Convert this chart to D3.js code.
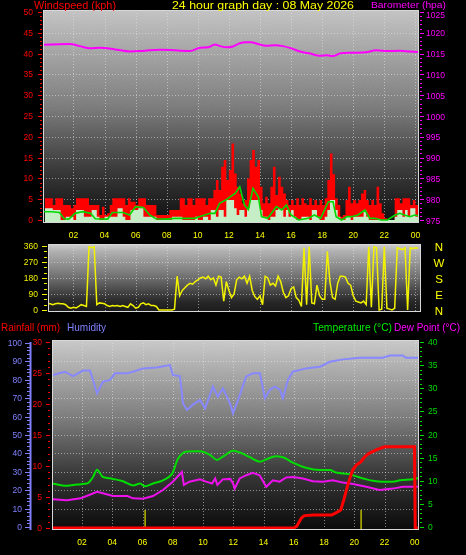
<!DOCTYPE html>
<html><head><meta charset="utf-8">
<script src="https://cdn.jsdelivr.net/npm/d3@7/dist/d3.min.js"></script>
<style>
body{margin:0;background:#000;}
svg{display:block;}
text{font-family:"Liberation Sans",Arial,sans-serif;}
</style>
</head><body>
<svg id="c" width="466" height="555"></svg>
<script>
// ---------------- DATA ----------------
const hourLabels = ["02","04","06","08","10","12","14","16","18","20","22","00"];
const labelHours = [2,4,6,8,10,12,14,16,18,20,22,24];

// wind: 10-minute samples starting 00:10
const windStartHour = 1/6, windStep = 1/6;
const windGust = [
 5.2,5.2,5.2,3.6,5.2,5.2,5.2,3.6,3.6,3.6,2.8,3.6,
 5.2,5.2,5.2,5.2,5.2,3.6,3.6,3.6,3.6,1.2,3.2,1.2,
 1.6,3.6,5.2,5.2,5.2,5.2,5.2,3.6,5.2,4.4,4.4,3.6,
 5.2,5.2,5.2,3.6,3.6,3.6,3.6,1.2,1.2,1.2,1.2,1.2,
 2.4,2.4,2.4,2.4,5.2,5.2,3.6,5.2,5.2,3.6,5.2,5.2,
 5.2,5.2,3.6,5.2,5.2,7.2,9.6,7.2,12.8,14.4,9.6,12,
 18.4,11.2,8,6.4,4,4.8,10,14.4,16.8,12.8,14.4,8,
 4,5.6,4,8,12.8,6,10.4,8,6.4,4.8,3.6,4.8,
 3.6,5.2,3.6,5.2,4,3.6,5.2,3.6,4.8,3.6,4.8,3.6,
 5.2,9.6,16,11,5.2,3.6,0.8,1.2,4.8,8,4,4.8,
 4,4.8,6.4,7.2,4.8,3.6,4.8,3.6,8,4,1.6,0.4,
 0,0,0,5.2,5.2,4,5.2,5.2,5.2,3.6,4.8,3.6,3.6
];
const windAvg = [
 2.8,2.8,2.8,2.4,2.4,2.4,0,0,0.8,0.8,0.8,0,
 2.4,2.4,2.4,0.8,0.8,0.8,2.4,2.4,0.8,0,0,0.8,
 0.8,0.8,0.8,0.8,2.8,2.8,0.8,0,0,2.4,2.4,2.4,
 2.8,2.8,0.8,0.8,0.8,0.8,0.8,0,0,0,0,0,
 0,0.8,0.8,0.8,0.8,0,0,0,0,0,0.8,0,
 0,0.8,0.8,0,2.4,2.4,0.8,2.4,2.4,0.8,4.8,4.8,
 4.8,2.8,1.2,2.4,2.4,0.8,2.8,4.8,4.8,4.8,4.8,2.4,
 0.8,0.8,0,0.8,0.8,2.4,2.8,2.4,0.8,2.4,0.8,2.4,
 0.8,0,0,0.8,0.8,0.8,0,2.4,2.4,0.8,0,0,
 0.8,2.4,4.8,4.8,2.4,0.8,0,0,0.8,0.8,0,0.8,
 0.8,0.8,0.8,2.4,0.8,0,0,0,0,0,0,0,
 0,0,0,0.8,2.4,2.4,0.8,2.4,0.8,2.8,2.8,0.8,0.8
];
const trendHours = [0.1,0.6,1.1,1.4,1.7,2.1,2.6,3.1,3.4,4.2,4.5,5.2,5.6,6.0,6.5,6.9,7.3,8.0,8.5,9.2,9.8,10.3,10.8,11.1,11.4,11.8,12.1,12.4,12.7,13.0,13.25,13.55,13.9,14.1,14.5,15.05,15.4,15.7,16.0,16.5,17.1,17.5,17.9,18.4,18.7,18.9,19.25,19.6,19.9,20.3,20.75,21.07,21.4,21.8,22.2,22.7,23.0,23.3,23.65,23.97,24.2];
const trendValues = [2,2,1.8,0.3,0.2,1.6,2,1.6,0.3,0.2,1.8,1.8,1.2,3.2,3.0,1.2,0.3,0.2,0.4,0.4,0.4,1.0,1.6,1.6,4,4.8,5.6,6.4,8,3.6,2.5,7.6,5.5,0.8,0.4,3.2,2.4,3.6,1.2,0,0.4,1.2,0.4,4.4,4.4,0.8,0,0.8,0.8,1.2,2.4,0.4,0.4,0,0,1.2,1.6,1.2,0.8,1.2,1.0];

const windDir = [
 35,35,35,30,35,38,35,35,30,15,10,15,
 12,20,30,25,20,355,350,355,30,40,38,35,
 25,20,25,22,25,20,25,20,15,35,25,10,
 15,35,40,30,35,25,25,20,0,0,0,0,
 0,0,5,190,80,110,125,140,150,145,160,170,
 180,185,175,190,170,180,140,190,185,50,160,110,
 70,90,170,185,175,190,150,190,110,75,60,80,
 30,190,180,140,150,135,190,160,100,70,80,120,
 130,70,55,20,350,30,355,40,35,140,80,60,
 60,330,160,70,60,150,190,190,185,150,140,80,
 50,45,40,50,30,355,15,355,350,0,5,355,
 10,5,0,10,350,345,340,350,0,350,345,350,348
];
const compassLabels = ["N","W","S","E","N"];
const compassDegrees = [360,270,180,90,0];

const baroHours = [0.1,1.78,2.4,3.06,3.7,4.67,5.64,6.6,7.57,8.53,9.5,10.14,10.66,11.1,11.43,11.94,12.26,12.7,13.1,13.42,13.87,14.39,14.97,15.48,16.06,16.58,17.22,17.86,18.31,18.7,19.21,19.92,20.82,21.46,22.24,23.0,23.65,24.17];
const baroValues = [1017.1,1017.3,1016.8,1016.3,1016.4,1016.0,1015.5,1015.7,1015.9,1015.8,1015.6,1016.4,1016.5,1017.2,1016.8,1016.5,1016.7,1017.5,1017.7,1017.7,1017.3,1016.9,1017.0,1016.8,1016.2,1015.5,1015.0,1014.5,1014.6,1014.4,1015.1,1015.2,1015.3,1015.8,1015.6,1015.7,1015.5,1015.4];

const humHours = [0.08,0.87,1.4,2.06,2.52,2.72,2.99,3.38,3.85,4.18,4.97,5.37,6.03,6.95,7.81,8.01,8.47,8.67,8.94,9.33,9.8,10.13,10.65,10.98,11.31,11.78,11.98,12.31,12.84,13.3,13.76,14.09,14.42,14.75,15.08,15.28,15.61,15.94,16.8,17.73,18.39,19.25,20.37,21.89,22.35,23.21,23.41,24.21];
const humValues = [82.6,84.4,82,85,85,80,72.6,78.9,79.9,83.5,83.5,84.4,86.2,86.7,88,82.6,82,67.3,63.6,66.5,69.1,64.5,76.3,70.8,75.4,67.3,61.8,69,81.7,83.5,83.5,70,74.6,76.3,74.6,70,79.9,84.4,86.2,87.1,89.8,91.1,92,92,93.2,93.2,92,92];

const tempHours = [0.08,1.0,1.67,2.33,2.72,2.99,3.38,4.04,4.71,5.37,5.83,6.16,6.69,7.35,7.95,8.35,8.94,9.8,10.46,10.92,11.31,11.98,12.44,13.1,13.76,14.16,14.82,15.28,15.94,16.8,17.73,18.39,18.78,19.71,20.37,21.23,21.89,22.55,23.02,23.88,24.21];
const tempValues = [9.4,8.9,9.2,9.4,10.8,12.4,10.8,10.4,9.9,9.0,9.4,8.8,9.4,10.1,11.5,14.8,16.3,16.4,15.6,14.5,15.2,16.5,16.1,15.1,14.1,14.6,15.3,15.1,13.9,12.8,12.3,12.3,11.8,11.4,10.7,10.0,9.8,9.8,10.1,10.3,10.6];

const dewHours = [0.08,1.0,1.9,2.3,2.99,3.38,4.04,5.0,5.37,6.03,6.69,7.35,8.0,8.6,8.73,9.1,9.8,10.2,10.6,10.8,10.95,11.3,11.8,11.98,12.09,12.42,12.86,13.3,13.74,14.18,14.62,15.06,15.5,15.94,16.6,17.26,17.92,18.58,19.25,19.91,20.79,21.67,22.55,23.21,24.2];
const dewValues = [6.0,5.8,6.2,6.7,7.6,7.3,6.7,6.7,6.2,6.1,6.7,8.0,9.8,11.9,9.1,9.8,10.3,9.8,9.4,10.5,9.1,10.3,10.4,9.4,8.3,10.5,11.2,11.7,11.2,8.7,10.1,9.8,10.7,10.8,10.5,9.9,9.8,10.1,9.6,9.3,8.7,8.0,8.3,8.7,8.7];

const rainHours = [0,16.0,16.2,16.5,16.7,17.3,18.5,18.9,19.1,19.3,19.6,19.9,20.15,20.4,20.7,20.95,21.45,22.0,23.98,24.03,24.2];
const rainValues = [0,0,0.3,1.6,2.0,2.1,2.1,2.6,2.9,4.5,7.2,9.4,10.2,10.6,11.5,12.0,12.6,13.1,13.1,0,0];

const markerHours = [6.17,20.45];
const markerValues = [2.9,2.9];

// ---------------- LAYOUT ----------------
const svg = d3.select("#c");
const defs = svg.append("defs");
svg.append("rect").attr("width",466).attr("height",555).attr("fill","#000");

const P1 = {x:43, y:10, w:376, h:213, clip:"cl1"};
const P2 = {x:48, y:244, w:373, h:68, clip:"cl2"};
const P3 = {x:52, y:340, w:367, h:190, clip:"cl3"};

const xTop = d3.scaleLinear().domain([0,24]).range([42.4,415.4]);
const ySpeed = d3.scaleLinear().domain([0,50]).range([220,12]);
const yBaro = d3.scaleLinear().domain([975,1025]).range([220,12]);
const yDir = d3.scaleLinear().domain([0,360]).range([310,246]);
const xBot = d3.scaleLinear().domain([0,24]).range([51.8,414.8]);
const yHum = d3.scaleLinear().domain([0,100]).range([527,343]);
const yRain = d3.scaleLinear().domain([0,30]).range([528,342]);
const yTemp = d3.scaleLinear().domain([0,40]).range([527,342]);

function gradient(id, stops){
  const g = defs.append("linearGradient").attr("id",id).attr("x1",0).attr("y1",0).attr("x2",0).attr("y2",1);
  stops.forEach(s=>g.append("stop").attr("offset",s[0]).attr("stop-color",s[1]));
}
gradient("g1",[[0,"#c2c2c2"],[0.45,"#7a7a7a"],[0.75,"#383838"],[1,"#0e0e0e"]]);
gradient("g2",[[0,"#cfcfcf"],[0.1,"#b0b0b0"],[0.5,"#6a6a6a"],[0.85,"#262626"],[1,"#1a1a1a"]]);
gradient("g3",[[0,"#c8c8c8"],[0.42,"#777777"],[0.72,"#333333"],[1,"#0a0a0a"]]);

const f = defs.append("filter").attr("id","noise").attr("x",0).attr("y",0).attr("width","100%").attr("height","100%");
f.append("feTurbulence").attr("type","fractalNoise").attr("baseFrequency","0.9").attr("numOctaves",1).attr("seed",4);
f.append("feColorMatrix").attr("type","saturate").attr("values",0);

function panel(P, grad){
  svg.append("rect").attr("x",P.x).attr("y",P.y).attr("width",P.w).attr("height",P.h).attr("fill",`url(#${grad})`);
  svg.append("rect").attr("x",P.x).attr("y",P.y).attr("width",P.w).attr("height",P.h)
    .attr("filter","url(#noise)").attr("opacity",0.13).style("mix-blend-mode","overlay");
  defs.append("clipPath").attr("id",P.clip).append("rect").attr("x",P.x).attr("y",P.y).attr("width",P.w).attr("height",P.h);
}
function border(P){
  svg.append("rect").attr("x",P.x+0.5).attr("y",P.y+0.5).attr("width",P.w-1).attr("height",P.h-1)
    .attr("fill","none").attr("stroke","#d8d8d8").attr("stroke-width",1);
}
function grid(P, xs, xVals, yScale, yVals){
  const g = svg.append("g").attr("clip-path","url(#"+P.clip+")")
    .attr("stroke","#e6e6e6").attr("stroke-opacity",0.55).attr("stroke-width",1).attr("stroke-dasharray","1,2");
  xVals.forEach(v=>g.append("line").attr("x1",Math.round(xs(v))+0.5).attr("x2",Math.round(xs(v))+0.5).attr("y1",P.y).attr("y2",P.y+P.h));
  yVals.forEach(v=>g.append("line").attr("y1",Math.round(yScale(v))+0.5).attr("y2",Math.round(yScale(v))+0.5).attr("x1",P.x).attr("x2",P.x+P.w));
}
panel(P1,"g1"); panel(P2,"g2"); panel(P3,"g3");

grid(P1, xTop, labelHours, ySpeed, d3.range(5,50,5));
grid(P2, xTop, labelHours, yDir, [90,180,270]);
grid(P3, xBot, labelHours, yHum, d3.range(10,100,10));

// ---------- top: wind speed ----------
const windHours = windGust.map((d,i)=>windStartHour+i*windStep);
const gTop = svg.append("g").attr("clip-path","url(#cl1)");
const baseY = P1.y+P1.h;
gTop.append("path").datum(windGust)
  .attr("d", d3.area().x((d,i)=>xTop(windHours[i])).y0(baseY).y1(d=>ySpeed(d)).curve(d3.curveStepAfter))
  .attr("fill","#ff0000");
gTop.append("path").datum(windAvg)
  .attr("d", d3.area().x((d,i)=>xTop(windHours[i])).y0(baseY).y1(d=>Math.min(ySpeed(d),baseY-1.5)).curve(d3.curveStepAfter))
  .attr("fill","#c6eec6");
gTop.append("path").datum(trendValues)
  .attr("d", d3.line().x((d,i)=>xTop(trendHours[i])).y(d=>ySpeed(d)))
  .attr("fill","none").attr("stroke","#00d800").attr("stroke-width",1.6);
gTop.append("path").datum(baroValues)
  .attr("d", d3.line().x((d,i)=>xTop(baroHours[i])).y(d=>yBaro(d)).curve(d3.curveMonotoneX))
  .attr("fill","none").attr("stroke","#ff00ff").attr("stroke-width",2);
border(P1);

// ---------- wind direction ----------
const gDir = svg.append("g").attr("clip-path","url(#cl2)");
gDir.append("path").datum(windDir)
  .attr("d", d3.line().x((d,i)=>xTop(windHours[i])).y(d=>yDir(d)))
  .attr("fill","none").attr("stroke","#f2f200").attr("stroke-width",1.5);
border(P2);

// ---------- bottom ----------
const gBot = svg.append("g").attr("clip-path","url(#cl3)");
gBot.selectAll("line.mk").data(markerValues).join("line").attr("class","mk")
  .attr("x1",(d,i)=>xBot(markerHours[i])).attr("x2",(d,i)=>xBot(markerHours[i]))
  .attr("y1",d=>yRain(d)).attr("y2",P3.y+P3.h)
  .attr("stroke","#b8b800").attr("stroke-width",1.5);
gBot.append("path").datum(humValues)
  .attr("d", d3.line().x((d,i)=>xBot(humHours[i])).y(d=>yHum(d)))
  .attr("fill","none").attr("stroke","#8888ff").attr("stroke-width",2);
gBot.append("path").datum(tempValues)
  .attr("d", d3.line().x((d,i)=>xBot(tempHours[i])).y(d=>yTemp(d)).curve(d3.curveMonotoneX))
  .attr("fill","none").attr("stroke","#00dd00").attr("stroke-width",2);
gBot.append("path").datum(dewValues)
  .attr("d", d3.line().x((d,i)=>xBot(dewHours[i])).y(d=>yTemp(d)))
  .attr("fill","none").attr("stroke","#ee11ee").attr("stroke-width",2);
gBot.append("path").datum(rainValues)
  .attr("d", d3.line().x((d,i)=>xBot(rainHours[i])).y(d=>yRain(d)))
  .attr("fill","none").attr("stroke","#ff0000").attr("stroke-width",3);
border(P3);

// ---------- axes ----------
function yAxis(scale, x, side, major, minor, color, labelX, majorLen, minorLen, dyFn){
  const g = svg.append("g");
  const dir = side==="left" ? -1 : 1;
  minor.forEach(v=>g.append("line").attr("x1",x).attr("x2",x+dir*minorLen)
     .attr("y1",Math.round(scale(v))+0.5).attr("y2",Math.round(scale(v))+0.5).attr("stroke",color));
  major.forEach(v=>{
    g.append("line").attr("x1",x).attr("x2",x+dir*majorLen)
     .attr("y1",Math.round(scale(v))+0.5).attr("y2",Math.round(scale(v))+0.5).attr("stroke",color);
    g.append("text").attr("x",labelX).attr("y",scale(v)+(dyFn?dyFn(v):3))
     .attr("text-anchor",side==="left"?"end":"start")
     .attr("fill",color).attr("font-size","8.5px").text(v);
  });
}
yAxis(ySpeed, 42, "left", d3.range(0,51,5), d3.range(0,51,1), "#ff0000", 33, 4, 2);
yAxis(yBaro, 420, "right", d3.range(975,1026,5), d3.range(975,1026,1), "#ff00ff", 426, 4, 2, v=> v===1025 ? 6 : 3.5);
yAxis(yDir, 47, "left", [0,90,180,270,360], d3.range(0,361,30), "#f0f000", 38, 5, 3);
yAxis(yHum, 30, "left", d3.range(0,101,10), d3.range(0,101,2), "#8080ff", 22, 5, 3);
svg.append("line").attr("x1",30.5).attr("x2",30.5).attr("y1",342).attr("y2",530).attr("stroke","#8080ff").attr("stroke-width",2);
yAxis(yRain, 50, "left", d3.range(0,31,5), d3.range(0,31,1), "#ff0000", 42, 4, 2);
yAxis(yTemp, 420, "right", d3.range(0,41,5), d3.range(0,41,1), "#00dd00", 428, 4, 2);

// x labels
function xLabels(xs, y){
  svg.append("g").selectAll("text").data(hourLabels).join("text")
    .attr("x",(d,i)=>xs(labelHours[i])).attr("y",y).attr("text-anchor","middle")
    .attr("fill","#ffff00").attr("font-size","8.5px").text(d=>d);
}
xLabels(xTop, 238);
xLabels(xBot, 545);

// compass letters
svg.append("g").selectAll("text").data(compassLabels).join("text")
  .attr("x",439).attr("y",(d,i)=>yDir(compassDegrees[i])+4.5).attr("text-anchor","middle")
  .attr("fill","#ffff00").attr("font-size","11.5px").text(d=>d);

// titles
function title(t, x, y, w, color, size){
  svg.append("text").attr("x",x).attr("y",y).attr("fill",color).attr("font-size",(size||11)+"px")
    .attr("textLength",w).attr("lengthAdjust","spacingAndGlyphs").text(t);
}
title("Windspeed (kph)", 34, 9, 82, "#ff0000", 10);
title("24 hour graph day : 08 May 2026", 172, 9, 182, "#ffff00", 10);
title("Barometer (hpa)", 371, 8.4, 75, "#ff00ff", 9);
title("Rainfall (mm)", 1, 331, 59, "#ff0000");
title("Humidity", 67, 331, 39, "#8080ff");
title("Temperature (°C)", 313, 331, 79, "#00ee00");
title("Dew Point (°C)", 394, 331, 66, "#ff00ff");
</script>
</body></html>
